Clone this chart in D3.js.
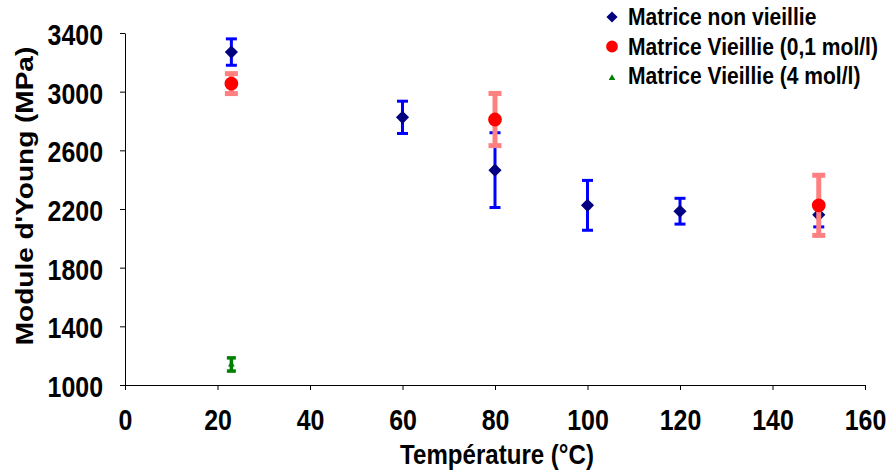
<!DOCTYPE html>
<html>
<head>
<meta charset="utf-8">
<script src="https://cdn.jsdelivr.net/npm/d3@7"></script>
<style>
  body { margin: 0; background: #fff; }
  svg { display: block; font-family: "Liberation Sans", Arial, sans-serif; font-weight: bold; }
</style>
</head>
<body>
<svg id="chart" width="888" height="470"></svg>
<script>
// Young's modulus vs temperature for three matrix conditions
const temperatures1 = [23, 60, 80, 100, 120, 150];
const modulus1 = [3270, 2825, 2465, 2225, 2185, 2160];
const error1 = [90, 110, 255, 170, 88, 82];

const temperatures2 = [23, 80, 150];
const modulus2 = [3055, 2810, 2225];
const error2 = [68, 178, 205];

const temperatures3 = [23];
const modulus3 = [1140];
const error3 = [45];

const seriesNames = ["Matrice non vieillie", "Matrice Vieillie (0,1 mol/l)", "Matrice Vieillie (4 mol/l)"];
const xTicks = [0, 20, 40, 60, 80, 100, 120, 140, 160];
const yTicks = [1000, 1400, 1800, 2200, 2600, 3000, 3400];

// all lettering uses a slightly condensed bold face
const SX = 0.86;
const FONT = "'Liberation Sans', Arial, sans-serif";

const svg = d3.select("#chart");
const x = d3.scaleLinear().domain([0, 160]).range([125, 865]);
const y = d3.scaleLinear().domain([1000, 3400]).range([385, 33]);

// axes
const xAxis = svg.append("g").attr("transform", "translate(0,385)")
  .call(d3.axisBottom(x).tickValues(xTicks).tickFormat(d3.format("d"))
    .tickSize(5).tickSizeOuter(0).tickPadding(19));
const yAxis = svg.append("g").attr("transform", "translate(125,0)")
  .call(d3.axisLeft(y).tickValues(yTicks).tickFormat(d3.format("d"))
    .tickSize(5).tickSizeOuter(0).tickPadding(17));
[xAxis, yAxis].forEach(a => {
  a.select(".domain").attr("stroke", "#000").attr("stroke-width", 1);
  a.selectAll(".tick line").attr("stroke", "#000");
  a.selectAll("text").attr("fill", "#000")
    .style("font-size", "29px").style("font-weight", "bold").style("font-family", FONT)
    .attr("transform", `scale(${SX},1)`);
});
yAxis.selectAll("text").attr("x", -22 / SX).attr("dy", "0.4em");

// axis titles
svg.append("text").attr("transform", `translate(497,464) scale(${SX},1)`).attr("text-anchor", "middle")
  .style("font-size", "28px").text("Température (°C)");
svg.append("text").attr("transform", `translate(33,196) rotate(-90) scale(1,${SX})`).attr("text-anchor", "middle")
  .style("font-size", "28px").text("Module d'Young (MPa)");

function errorBars(temps, vals, errs, color, width, cap) {
  const g = svg.append("g").attr("stroke", color).attr("stroke-width", width);
  temps.forEach((t, i) => {
    const cx = x(t), top = y(vals[i] + errs[i]), bot = y(vals[i] - errs[i]);
    g.append("line").attr("x1", cx).attr("x2", cx).attr("y1", top).attr("y2", bot);
    g.append("line").attr("x1", cx - cap / 2).attr("x2", cx + cap / 2).attr("y1", top).attr("y2", top);
    g.append("line").attr("x1", cx - cap / 2).attr("x2", cx + cap / 2).attr("y1", bot).attr("y2", bot);
  });
}

const diamond = d3.symbol().type(d3.symbolDiamond2).size(110);
const circle = d3.symbol().type(d3.symbolCircle).size(150);
const triangle = d3.symbol().type(d3.symbolTriangle2).size(32);

// series 1: non aged matrix
errorBars(temperatures1, modulus1, error1, "#0000ff", 3, 11);
svg.append("g").selectAll("path").data(temperatures1).join("path")
  .attr("transform", (t, i) => `translate(${x(t)},${y(modulus1[i])})`)
  .attr("d", diamond).attr("fill", "#000080");

// series 2: aged 0.1 mol/l
errorBars(temperatures2, modulus2, error2, "#ff8080", 5, 13);
svg.append("g").selectAll("path").data(temperatures2).join("path")
  .attr("transform", (t, i) => `translate(${x(t)},${y(modulus2[i])})`)
  .attr("d", circle).attr("fill", "#ff0000");

// series 3: aged 4 mol/l
errorBars(temperatures3, modulus3, error3, "#008000", 3.5, 9);
svg.append("g").selectAll("path").data(temperatures3).join("path")
  .attr("transform", (t, i) => `translate(${x(t)},${y(modulus3[i])})`)
  .attr("d", triangle).attr("fill", "#008000");

// legend
const legendSymbols = [
  { sym: diamond, color: "#000080", scale: 0.85, dy: 0 },
  { sym: circle, color: "#ff0000", scale: 0.85, dy: 0 },
  { sym: triangle, color: "#008000", scale: 1, dy: 2 }
];
const legend = svg.append("g");
seriesNames.forEach((name, i) => {
  const base = 25 + i * 29.5;
  legend.append("path")
    .attr("transform", `translate(612,${base - 8 + legendSymbols[i].dy}) scale(${legendSymbols[i].scale})`)
    .attr("d", legendSymbols[i].sym).attr("fill", legendSymbols[i].color);
  legend.append("text").attr("transform", `translate(628,${base}) scale(${SX},1)`)
    .style("font-size", "24.5px").text(name);
});
</script>
</body>
</html>
